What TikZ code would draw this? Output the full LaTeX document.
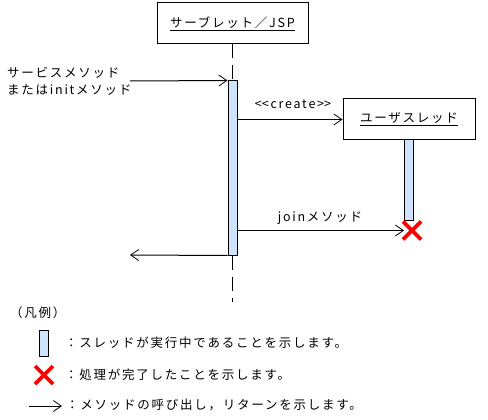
\documentclass[tikz,border=0pt]{standalone}
\usepackage{fontspec}
\setmainfont{Noto Sans CJK JP}[LetterSpace=14]
\usetikzlibrary{arrows.meta,calc}
\definecolor{actblue}{RGB}{206,228,252}
\begin{document}
\begin{tikzpicture}[x=1pt,y=-1pt,font=\fontsize{12.5}{14}\selectfont,
  obj/.style={draw,line width=1pt,inner sep=0pt,minimum height=41pt},
  act/.style={draw,fill=actblue,line width=1pt,inner sep=0pt,minimum width=9pt},
  msg/.style={-{Straight Barb[length=8pt,width=11pt,line width=0.8pt]},line width=1pt},
  life/.style={line width=1pt,dash pattern=on 14pt off 7pt},
  lbl/.style={inner sep=0pt},
  redx/.pic={\draw[red,line width=3.6pt] (-9,-9) -- (9,9) (-9,9) -- (9,-9);}]
\useasboundingbox (0,0) rectangle (488,420);
% objects
\node[obj,minimum width=151pt] (srv) at (232.5,23.5) {\underline{サーブレット／JSP}};
\node[obj,minimum width=132pt] (usr) at (409,119.5) {\underline{ユーザスレッド}};
% activations
\node[act,minimum height=174pt] (bar1) at (232.5,168) {};
\node[act,minimum height=80pt] (bar2) at (409,180) {};
% lifelines
\coordinate (end1) at (232.5,302);
\draw[life] (srv.south) -- (bar1.north);
\draw[life] (bar1.south) -- (end1);
% incoming call
\coordinate (in) at (130,81);
\draw[msg] (in) -- (bar1.north west);
\node[lbl,anchor=west] (l1) at (7,73) {サービスメソッド};
\node[lbl,anchor=west] (l2) at (7,90) {またはinitメソッド};
% create
\draw[msg] (bar1.east |- usr.west) -- (usr.west);
\node[lbl] (lc) at (293,104) {<\kern0pt<create>\kern0pt>};
% join
\coordinate (xm) at (412,230.5);
\draw[msg] (bar1.east |- xm) -- (bar2.west |- xm);
\pic at (xm) {redx};
\node[lbl] (lj) at (320,218) {joinメソッド};
% return
\coordinate (ret) at (130,255);
\draw[msg] (bar1.south west) -- (ret);
% legend
\node[lbl,anchor=west] (lg) at (10,313) {（凡例）};
\node[act,minimum height=26pt] (lgbar) at (43.8,343) {};
\node[lbl,anchor=west] (lt1) at (65,343) {：スレッドが実行中であることを示します。};
\coordinate (lgx) at (44,375);
\pic at (lgx) {redx};
\node[lbl,anchor=west] (lt2) at (65,375) {：処理が完了したことを示します。};
\coordinate (la1) at (29,406);
\coordinate (la2) at (62,406);
\draw[msg] (la1) -- (la2);
\node[lbl,anchor=west] (lt3) at (66,405) {：メソッドの呼び出し，リターンを示します。};
\end{tikzpicture}
\end{document}
